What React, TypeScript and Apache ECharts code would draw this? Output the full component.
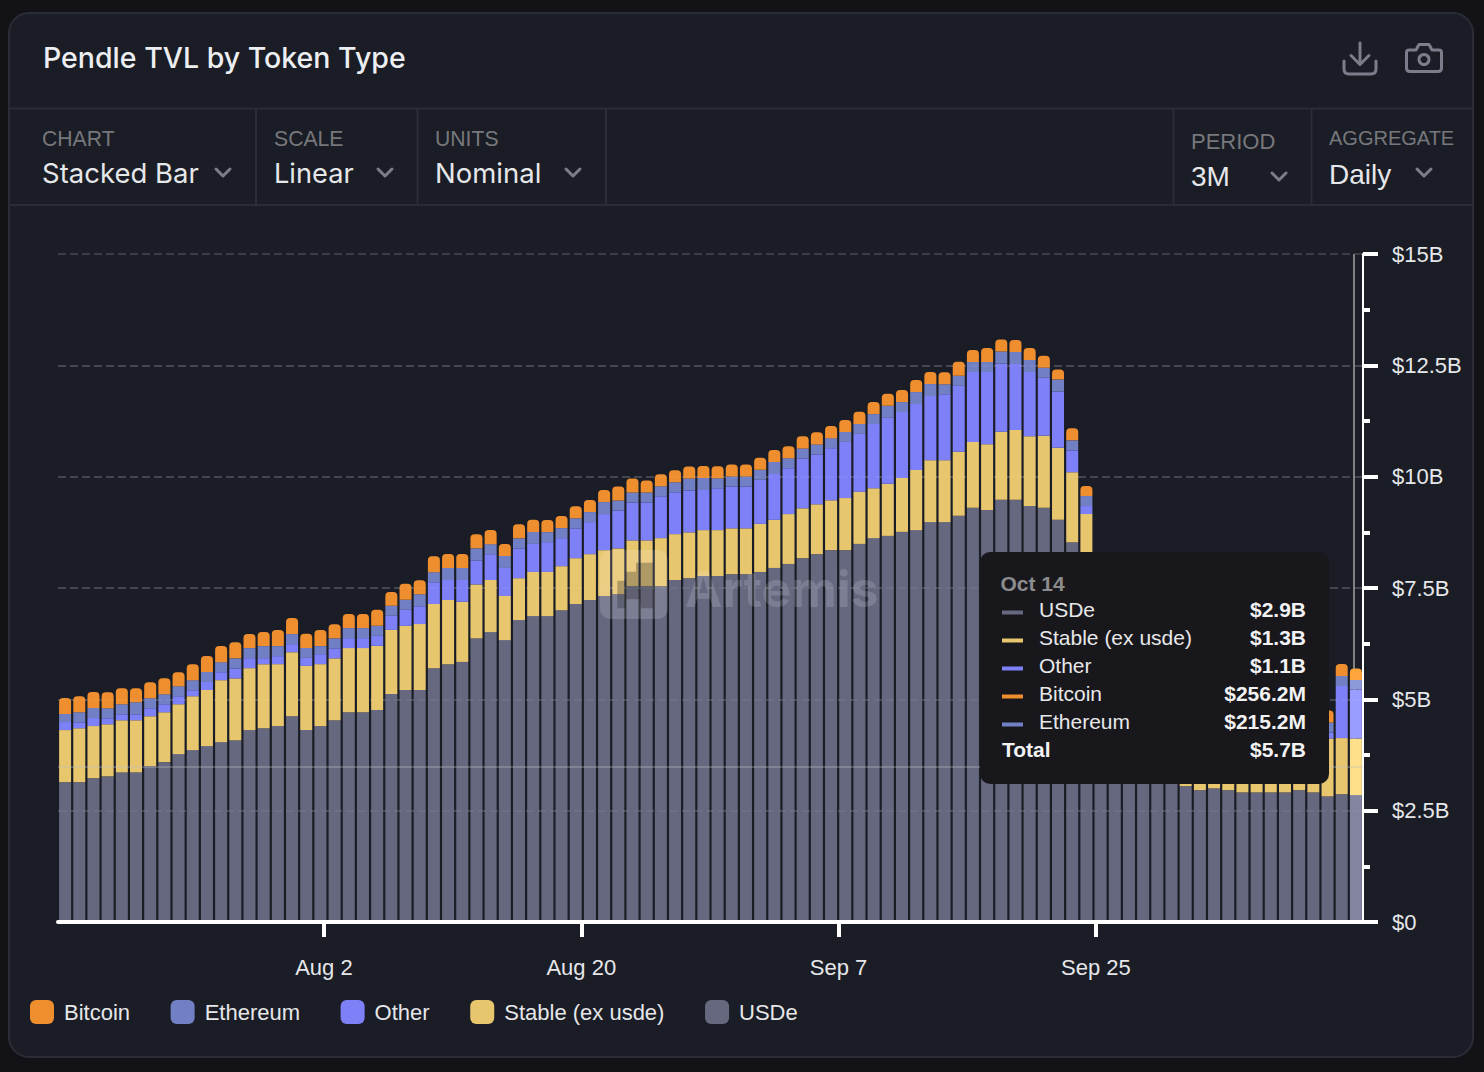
import React, { useEffect, useRef } from "react";
import * as echarts from "echarts";

const dayCount = 92;
const categories: string[] = Array.from({ length: dayCount }, (_, i) => {
  const d = new Date(Date.UTC(2024, 6, 15 + i));
  return d.toLocaleDateString("en-US", { month: "short", day: "numeric", timeZone: "UTC" });
});

const usde = [
  3.14, 3.14, 3.23, 3.27, 3.36, 3.36, 3.5, 3.59, 3.77, 3.86, 3.95, 4.04, 4.08, 4.31, 4.35, 4.4, 4.62, 4.31, 4.4, 4.53,
  4.71, 4.71, 4.76, 5.12, 5.21, 5.21, 5.7, 5.79, 5.84, 6.37, 6.51, 6.33, 6.78, 6.87, 6.87, 7.0, 7.14, 7.23, 7.32, 7.36,
  7.54, 7.54, 7.54, 7.68, 7.72, 7.77, 7.77, 7.81, 7.81, 7.86, 7.95, 8.04, 8.17, 8.26, 8.35, 8.35, 8.49, 8.62, 8.67, 8.76,
  8.8, 8.98, 8.98, 9.12, 9.3, 9.25, 9.48, 9.48, 9.34, 9.3, 9.03, 8.53, 7.66, 6.4, 5.9, 5.4, 4.9, 4.4, 3.8, 3.05,
  2.96, 3.0, 2.96, 2.91, 2.91, 2.91, 2.91, 2.96, 2.91, 2.82, 2.87, 2.85,
];
const stable = [
  1.17, 1.21, 1.17, 1.17, 1.17, 1.17, 1.12, 1.12, 1.12, 1.21, 1.26, 1.39, 1.39, 1.39, 1.44, 1.39, 1.44, 1.44, 1.39, 1.39,
  1.44, 1.44, 1.44, 1.44, 1.44, 1.48, 1.44, 1.44, 1.35, 1.21, 1.17, 0.99, 0.94, 0.99, 0.99, 0.99, 1.03, 1.03, 1.03, 1.03,
  1.03, 1.03, 1.08, 1.03, 1.03, 1.03, 1.03, 1.03, 1.03, 1.08, 1.08, 1.12, 1.12, 1.12, 1.12, 1.17, 1.17, 1.12, 1.17, 1.21,
  1.35, 1.39, 1.39, 1.44, 1.48, 1.48, 1.53, 1.57, 1.57, 1.62, 1.62, 1.57, 1.5, 1.3, 1.3, 1.3, 1.3, 1.3, 1.3, 1.3,
  1.3, 1.3, 1.3, 1.3, 1.3, 1.3, 1.3, 1.3, 1.3, 1.3, 1.26, 1.27,
];
const other = [
  0.18, 0.135, 0.18, 0.135, 0.135, 0.135, 0.18, 0.18, 0.18, 0.135, 0.18, 0.18, 0.225, 0.225, 0.135, 0.18, 0.18, 0.18, 0.225, 0.225,
  0.225, 0.225, 0.225, 0.315, 0.36, 0.4, 0.49, 0.45, 0.49, 0.54, 0.58, 0.63, 0.67, 0.63, 0.67, 0.63, 0.67, 0.72, 0.81, 0.85,
  0.85, 0.85, 0.94, 0.94, 0.94, 0.9, 0.94, 0.94, 0.94, 0.99, 1.03, 1.03, 1.12, 1.12, 1.17, 1.26, 1.3, 1.44, 1.48, 1.48,
  1.48, 1.44, 1.48, 1.48, 1.57, 1.62, 1.53, 1.48, 1.44, 1.3, 1.26, 0.49, 0.18, 0.14, 0.14, 0.14, 0.14, 0.14, 0.14, 0.14,
  0.14, 0.14, 0.14, 0.14, 0.14, 0.14, 0.14, 0.14, 0.14, 0.135, 1.17, 1.1,
];
const ethereum = [
  0.18, 0.225, 0.225, 0.225, 0.225, 0.27, 0.225, 0.225, 0.225, 0.225, 0.225, 0.225, 0.225, 0.225, 0.27, 0.225, 0.225, 0.225, 0.18, 0.225,
  0.225, 0.225, 0.225, 0.225, 0.225, 0.27, 0.225, 0.27, 0.27, 0.27, 0.225, 0.27, 0.225, 0.27, 0.225, 0.225, 0.225, 0.225, 0.27, 0.225,
  0.225, 0.225, 0.225, 0.225, 0.27, 0.27, 0.225, 0.225, 0.225, 0.225, 0.27, 0.225, 0.225, 0.225, 0.225, 0.225, 0.225, 0.225, 0.27, 0.225,
  0.27, 0.27, 0.225, 0.225, 0.225, 0.225, 0.27, 0.27, 0.27, 0.225, 0.27, 0.225, 0.225, 0.18, 0.18, 0.18, 0.18, 0.18, 0.18, 0.18,
  0.18, 0.18, 0.18, 0.18, 0.18, 0.18, 0.18, 0.18, 0.18, 0.225, 0.225, 0.2152,
];
const bitcoin = [
  0.36, 0.36, 0.36, 0.36, 0.36, 0.315, 0.36, 0.36, 0.315, 0.36, 0.36, 0.36, 0.36, 0.315, 0.315, 0.36, 0.36, 0.315, 0.36, 0.315,
  0.315, 0.315, 0.36, 0.31, 0.36, 0.315, 0.36, 0.315, 0.315, 0.315, 0.315, 0.27, 0.315, 0.27, 0.27, 0.27, 0.27, 0.27, 0.27, 0.315,
  0.315, 0.27, 0.27, 0.27, 0.27, 0.27, 0.27, 0.27, 0.27, 0.27, 0.27, 0.27, 0.27, 0.27, 0.27, 0.27, 0.27, 0.27, 0.27, 0.27,
  0.27, 0.27, 0.27, 0.315, 0.27, 0.315, 0.27, 0.27, 0.27, 0.27, 0.225, 0.27, 0.225, 0.2, 0.2, 0.22, 0.22, 0.22, 0.22, 0.22,
  0.22, 0.22, 0.22, 0.22, 0.22, 0.22, 0.22, 0.22, 0.22, 0.27, 0.27, 0.2562,
];

const seriesNames = ["USDe", "Stable (ex usde)", "Other", "Ethereum", "Bitcoin"];
const legendOrder = ["Bitcoin", "Ethereum", "Other", "Stable (ex usde)", "USDe"];
const seriesColors = ["#666880", "#E8C66E", "#7E80F8", "#7180C4", "#EE8E2E"];
const hoverColors = ["#8284A0", "#FFE08A", "#9A9CFF", "#8C9ADC", "#FFA53C"];
const seriesValues = [usde, stable, other, ethereum, bitcoin];

const yTicks = [0, 2.5, 5, 7.5, 10, 12.5, 15];
const yTickLabels = ["$0", "$2.5B", "$5B", "$7.5B", "$10B", "$12.5B", "$15B"];
const gridOverlay = [2.5, 5, 7.5, 10, 12.5];
const crosshairValue = 3.476;
const crosshairDay = 90;
const xTickDays = [18, 36, 54, 72];
const xTickLabels = ["Aug 2", "Aug 20", "Sep 7", "Sep 25"];

const tooltipTitle = "Oct 14";
const tooltipNames = ["USDe", "Stable (ex usde)", "Other", "Bitcoin", "Ethereum"];
const tooltipValues = ["$2.9B", "$1.3B", "$1.1B", "$256.2M", "$215.2M"];
const tooltipColors = ["#666880", "#E8C66E", "#7E80F8", "#EE8E2E", "#7180C4"];
const tooltipTotal = "$5.7B";

const controlLabels = ["CHART", "SCALE", "UNITS", "PERIOD", "AGGREGATE"];
const controlValues = ["Stacked Bar", "Linear", "Nominal", "3M", "Daily"];

const SANS = '"Liberation Sans", Arial, sans-serif';
const INTER = 'Inter, "Noto Sans", sans-serif';
const BORDER = "#2A2D36";
const ICON = "#7C7D8A";

echarts.graphic.registerShape(
  "cameraIcon",
  echarts.graphic.extendPath(
    "M1409 50 H1416 L1419 44.5 H1429 L1432 50 H1439 Q1441.5 50 1441.5 52.5 V68 Q1441.5 71.5 1438 71.5 H1410 Q1406.5 71.5 1406.5 68 V52.5 Q1406.5 50 1409 50 Z",
    {}
  )
);
echarts.graphic.registerShape(
  "downloadTray",
  echarts.graphic.extendPath("M1344 61 V69 Q1344 74 1349 74 H1371 Q1376 74 1376 69 V61", {})
);

function chrome(): any[] {
  const t = (text: string, x: number, y: number, font: string, fill: string, z = 1, align = "left") => ({
    type: "text",
    z,
    silent: true,
    style: { text, x, y, font, fill, verticalAlign: "middle", align },
  });
  const ln = (x1: number, y1: number, x2: number, y2: number) => ({
    type: "line",
    z: -1,
    silent: true,
    shape: { x1, y1, x2, y2 },
    style: { stroke: BORDER, lineWidth: 2 },
  });
  const stroke = { stroke: ICON, lineWidth: 3, fill: "none", lineCap: "round", lineJoin: "round" };
  const out: any[] = [
    {
      type: "rect",
      z: -2,
      silent: true,
      shape: { x: 9, y: 13, width: 1464, height: 1044, r: 20 },
      style: { fill: "#1A1D25", stroke: BORDER, lineWidth: 2 },
    },
    ln(10, 108.5, 1472, 108.5),
    ln(10, 205, 1472, 205),
    ln(256, 109, 256, 205),
    ln(417.5, 109, 417.5, 205),
    ln(606, 109, 606, 205),
    ln(1173.5, 109, 1173.5, 205),
    ln(1311.5, 109, 1311.5, 205),
    t("Pendle TVL by Token Type", 43, 57.5, `500 28.5px ${INTER}`, "#EDEEF1"),
    { type: "line", z: 1, silent: true, shape: { x1: 1360, y1: 43, x2: 1360, y2: 64 }, style: stroke },
    { type: "polyline", z: 1, silent: true, shape: { points: [[1351, 55.5], [1360, 64.5], [1369, 55.5]] }, style: stroke },
    { type: "downloadTray", z: 1, silent: true, style: stroke },
    { type: "cameraIcon", z: 1, silent: true, style: stroke },
    { type: "circle", z: 1, silent: true, shape: { cx: 1424, cy: 59.5, r: 5 }, style: stroke },
  ];
  const layout = [
    { x: 42, ly: 138, vy: 173, cx: 223, cy: 173, lf: `21.2px ${SANS}`, vf: `27.5px ${INTER}` },
    { x: 274, ly: 138, vy: 173, cx: 385, cy: 173, lf: `21.2px ${SANS}`, vf: `27.2px ${INTER}` },
    { x: 435, ly: 138, vy: 173, cx: 573, cy: 173, lf: `21.2px ${SANS}`, vf: `27.5px ${INTER}` },
    { x: 1191, ly: 141, vy: 176, cx: 1279, cy: 177, lf: `22px ${SANS}`, vf: `28px ${SANS}` },
    { x: 1329, ly: 138, vy: 174, cx: 1424, cy: 173, lf: `20px ${SANS}`, vf: `28px ${SANS}` },
  ];
  layout.forEach((c, i) => {
    out.push(t(controlLabels[i], c.x, c.ly, c.lf, "#77787C"));
    out.push(t(controlValues[i], c.x, c.vy, c.vf, "#E6E7EA"));
    out.push({
      type: "polyline",
      z: 1,
      silent: true,
      shape: { points: [[c.cx - 7, c.cy - 4], [c.cx, c.cy + 3], [c.cx + 7, c.cy - 4]] },
      style: stroke,
    });
  });

  // watermark
  out.push({
    type: "rect",
    z: 20,
    silent: true,
    shape: { x: 600, y: 550, width: 68, height: 69, r: 10 },
    style: { fill: "rgba(255,255,255,0.15)" },
  });
  out.push({
    type: "polygon",
    z: 21,
    silent: true,
    shape: {
      points: [
        [636, 562.7], [653.3, 562.7], [653.3, 608.3], [641, 608.3], [640, 599.3], [626, 599.3],
        [626, 608.3], [617.3, 608.3], [617.3, 580.7], [626, 580.7], [626, 571.7], [636, 571.7],
      ],
    },
    style: { fill: "rgba(20,20,30,0.28)" },
  });
  out.push(t("Artemis", 685, 589, `700 50px ${INTER}`, "rgba(255,255,255,0.15)", 20));

  // tooltip
  out.push({
    type: "rect",
    z: 30,
    silent: true,
    shape: { x: 980, y: 552, width: 349, height: 232, r: 10 },
    style: { fill: "#18181C" },
  });
  const rowY = 609;
  const rowH = 28;
  out.push(t(tooltipTitle, 1000.5, 583, `700 21px ${SANS}`, "#8C8C8F", 31));
  tooltipNames.forEach((name, i) => {
    const y = rowY + i * rowH;
    out.push({ type: "rect", z: 31, silent: true, shape: { x: 1002, y: y + 1.5, width: 21, height: 4 }, style: { fill: tooltipColors[i] } });
    out.push(t(name, 1039, y, `21px ${SANS}`, "#E8E8EA", 31));
    out.push(t(tooltipValues[i], 1306, y, `700 21px ${SANS}`, "#F2F2F4", 31, "right"));
  });
  const totalY = rowY + tooltipNames.length * rowH;
  out.push(t("Total", 1002, totalY, `700 21px ${SANS}`, "#F2F2F4", 31));
  out.push(t(tooltipTotal, 1306, totalY, `700 21px ${SANS}`, "#F2F2F4", 31, "right"));
  return out;
}

export default function App() {
  const ref = useRef<HTMLDivElement>(null);
  useEffect(() => {
    document.body.style.margin = "0";
    document.body.style.background = "#121217";
    const chart = echarts.init(ref.current!, undefined, { renderer: "svg" });
    const lastIndex = dayCount - 1;
    const bars = seriesNames.map((name, si) => ({
      name,
      type: "bar",
      stack: "tvl",
      xAxisIndex: 0,
      yAxisIndex: 0,
      barWidth: 12,
      z: 3,
      itemStyle: {
        color: seriesColors[si],
        borderRadius: si === 4 ? [4, 4, 0, 0] : 0,
      },
      data: seriesValues[si].map((v, i) =>
        i === lastIndex ? { value: v, itemStyle: { color: hoverColors[si] } } : v
      ),
      ...(si === 4
        ? {
            markLine: {
              silent: true,
              symbol: "none",
              z: 6,
              animation: false,
              label: { show: false },
              data: [
                ...gridOverlay.map((v) => ({
                  yAxis: v,
                  lineStyle: { color: "rgba(255,255,255,0.05)", type: "dashed", width: 2 },
                })),
                { yAxis: crosshairValue, lineStyle: { color: "rgba(190,190,190,0.42)", type: "solid", width: 1.5 } },
              ],
            },
          }
        : {}),
    }));
    chart.setOption({
      animation: false,
      backgroundColor: "#121217",
      textStyle: { fontFamily: SANS },
      grid: { left: 58, right: 121, top: 254, bottom: 150, containLabel: false },
      legend: {
        data: legendOrder,
        left: 25,
        top: 995,
        icon: "roundRect",
        itemWidth: 24,
        itemHeight: 24,
        itemGap: 40.6,
        selectedMode: false,
        textStyle: { color: "#E6E7EA", fontSize: 22, fontFamily: SANS, padding: [0, 0, 0, 5] },
      },
      xAxis: [
        {
          type: "category",
          data: categories,
          show: false,
        },
        {
          type: "value",
          position: "bottom",
          min: -0.6,
          max: 90.68,
          z: 5,
          splitLine: { show: false },
          axisLine: { show: true, onZero: false, lineStyle: { color: "#FFFFFF", width: 4 } },
          axisTick: { show: true, length: 15, customValues: xTickDays, lineStyle: { color: "#FFFFFF", width: 4 } },
          axisLabel: {
            show: true,
            customValues: xTickDays,
            margin: 34,
            color: "#E6E7EA",
            fontSize: 22,
            fontFamily: SANS,
            showMinLabel: true,
            showMaxLabel: true,
            formatter: (v: number) => xTickLabels[xTickDays.indexOf(Math.round(v))] ?? "",
          },
        },
      ],
      yAxis: [
        {
          type: "value",
          position: "right",
          min: 0,
          max: 15,
          interval: 2.5,
          axisLine: { show: true, onZero: false, lineStyle: { color: "#FFFFFF", width: 2 } },
          axisTick: { show: true, length: 15, lineStyle: { color: "#FFFFFF", width: 4 } },
          minorTick: { show: true, splitNumber: 2, length: 7, lineStyle: { color: "#FFFFFF", width: 4 } },
          splitLine: { show: true, lineStyle: { color: "#3A3D46", type: "dashed", width: 2 } },
          minorSplitLine: { show: false },
          axisLabel: {
            margin: 29,
            color: "#E6E7EA",
            fontSize: 22,
            fontFamily: SANS,
            padding: [11, 0, 0, 0],
            formatter: (v: number) => yTickLabels[yTicks.indexOf(v)] ?? "",
          },
        },
      ],
      graphic: { elements: chrome() },
      series: [
        {
          name: "crosshair",
          type: "line",
          xAxisIndex: 1,
          yAxisIndex: 0,
          z: 1,
          showSymbol: false,
          lineStyle: { opacity: 0 },
          data: [[crosshairDay, 0]],
          markLine: {
            silent: true,
            symbol: "none",
            z: 1,
            animation: false,
            label: { show: false },
            lineStyle: { color: "#808080", type: "solid", width: 2 },
            data: [{ xAxis: crosshairDay }],
          },
        },
        ...bars,
      ],
    });
    return () => chart.dispose();
  }, []);
  return <div ref={ref} style={{ width: 1484, height: 1072 }} />;
}
